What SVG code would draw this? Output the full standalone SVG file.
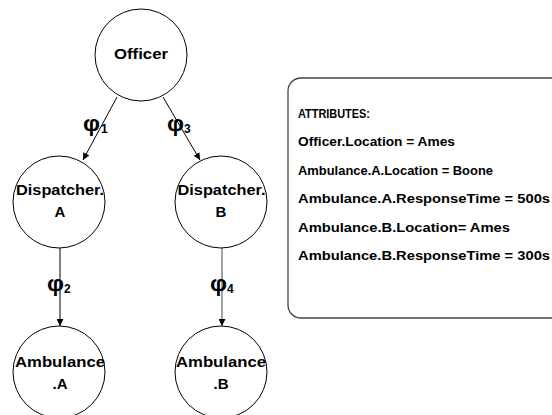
<svg xmlns="http://www.w3.org/2000/svg" width="552" height="415" viewBox="0 0 552 415">
<defs>
<style>
.node{fill:#fff;stroke:#000;stroke-width:1}
.lbl{font-family:"Liberation Sans",Arial,sans-serif;font-weight:bold;font-size:15px;fill:#000;text-anchor:middle}
.phi{font-family:"Liberation Sans",Arial,sans-serif;font-weight:bold;font-size:22px;fill:#000}
.sub{font-family:"Liberation Sans",Arial,sans-serif;font-weight:bold;font-size:12px;fill:#000}
.attr{font-family:"Liberation Sans",Arial,sans-serif;font-weight:bold;font-size:12.5px;fill:#000}
.edge{stroke:#000;stroke-width:1;fill:none;marker-end:url(#ah)}
</style>
<marker id="ah" viewBox="0 0 10 10" refX="10" refY="5" markerWidth="7" markerHeight="7" markerUnits="userSpaceOnUse" orient="auto">
<path d="M0,0 L10,5 L0,10 Z" fill="#000"/>
</marker>
</defs>
<rect width="552" height="415" fill="#fff"/>
<g id="connectors">
<line class="edge" x1="117" y1="97" x2="83" y2="160"/>
<line class="edge" x1="163" y1="97" x2="200" y2="160"/>
<line class="edge" x1="60" y1="247" x2="60" y2="326"/>
<line class="edge" x1="222" y1="247" x2="222" y2="326" style="stroke:#444"/>
<g id="phi1"><text class="phi" x="83" y="131" textLength="17" lengthAdjust="spacingAndGlyphs">φ</text><text class="sub" x="101" y="133">1</text></g>
<g id="phi3"><text class="phi" x="167" y="131" textLength="17" lengthAdjust="spacingAndGlyphs">φ</text><text class="sub" x="184" y="133">3</text></g>
<g id="phi2"><text class="phi" x="47" y="291" textLength="17" lengthAdjust="spacingAndGlyphs">φ</text><text class="sub" x="64" y="293">2</text></g>
<g id="phi4"><text class="phi" x="210" y="291" textLength="17" lengthAdjust="spacingAndGlyphs">φ</text><text class="sub" x="227" y="293">4</text></g>
</g>
<g id="officer">
<circle class="node" cx="141" cy="55" r="46"/>
<text class="lbl" x="141" y="59" textLength="54" lengthAdjust="spacingAndGlyphs">Officer</text>
</g>
<g id="dispatcherA">
<circle class="node" cx="59" cy="202" r="46"/>
<text class="lbl" x="60" y="195" textLength="88" lengthAdjust="spacingAndGlyphs">Dispatcher.</text>
<text class="lbl" x="60" y="217">A</text>
</g>
<g id="dispatcherB">
<circle class="node" cx="221" cy="202" r="46"/>
<text class="lbl" x="221.5" y="195" textLength="88" lengthAdjust="spacingAndGlyphs">Dispatcher.</text>
<text class="lbl" x="221" y="217">B</text>
</g>
<g id="ambulanceA">
<circle class="node" cx="59" cy="372" r="46"/>
<text class="lbl" x="60" y="367" textLength="90" lengthAdjust="spacingAndGlyphs">Ambulance</text>
<text class="lbl" x="60" y="389">.A</text>
</g>
<g id="ambulanceB">
<circle class="node" cx="221" cy="372" r="46"/>
<text class="lbl" x="221" y="367" textLength="90" lengthAdjust="spacingAndGlyphs">Ambulance</text>
<text class="lbl" x="221" y="389">.B</text>
</g>
<g id="attributes">
<rect x="288" y="78" width="280" height="240" rx="13" ry="13" fill="#fff" stroke="#444" stroke-width="1.3"/>
<text class="attr" x="298" y="118" textLength="72" lengthAdjust="spacingAndGlyphs">ATTRIBUTES:</text>
<text class="attr" x="298" y="146" textLength="157" lengthAdjust="spacingAndGlyphs">Officer.Location = Ames</text>
<text class="attr" x="298" y="175" textLength="195" lengthAdjust="spacingAndGlyphs">Ambulance.A.Location = Boone</text>
<text class="attr" x="298" y="203" textLength="252" lengthAdjust="spacingAndGlyphs">Ambulance.A.ResponseTime = 500s</text>
<text class="attr" x="298" y="232" textLength="212" lengthAdjust="spacingAndGlyphs">Ambulance.B.Location= Ames</text>
<text class="attr" x="298" y="260" textLength="252" lengthAdjust="spacingAndGlyphs">Ambulance.B.ResponseTime = 300s</text>
</g>
</svg>
